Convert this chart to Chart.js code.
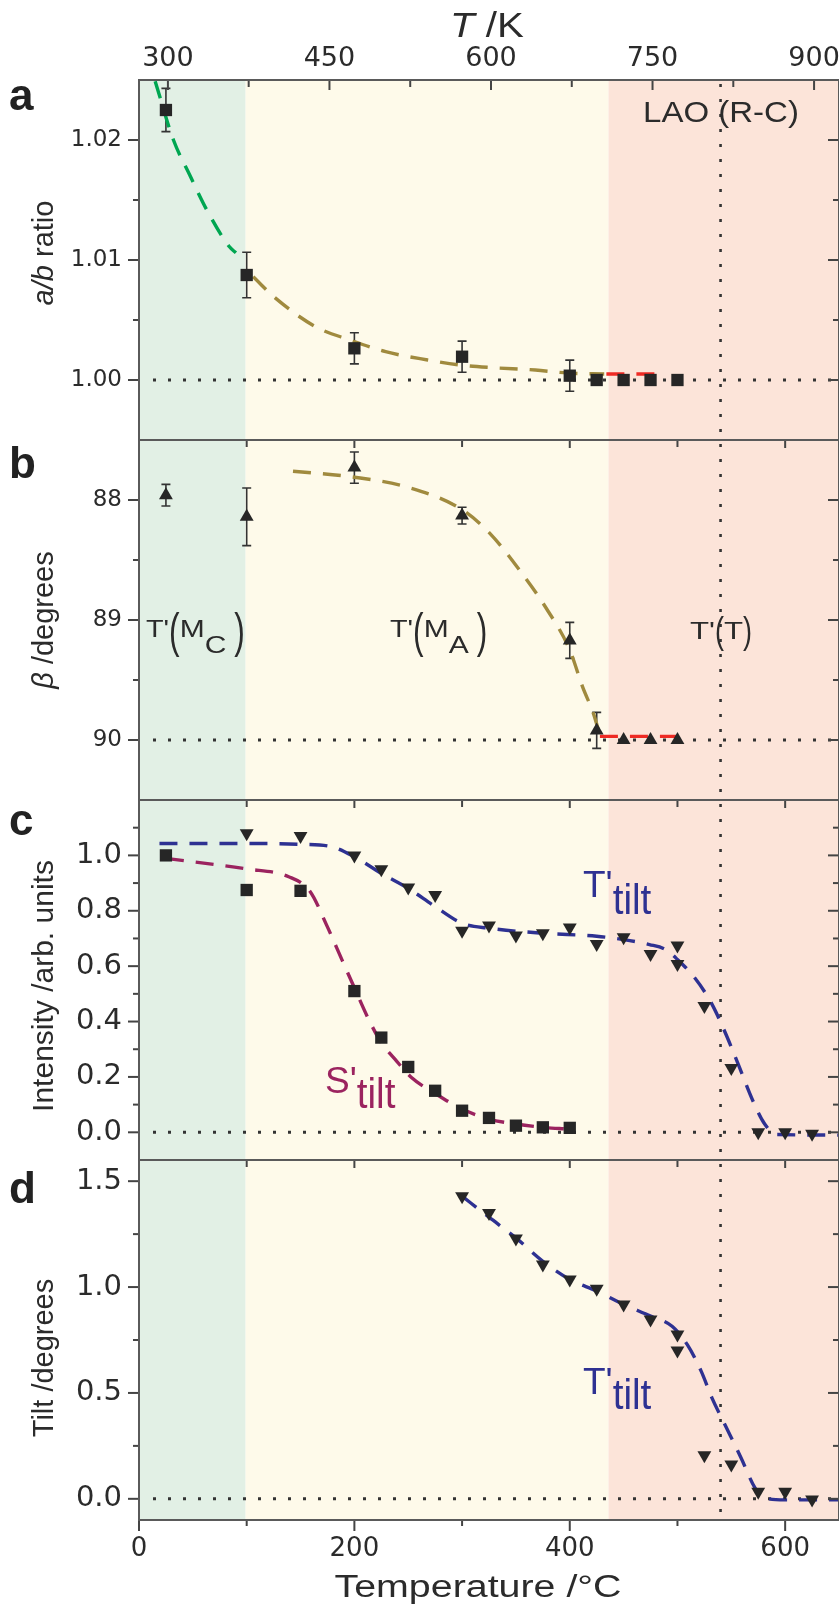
<!DOCTYPE html>
<html>
<head>
<meta charset="utf-8">
<title>Phase transitions vs temperature</title>
<script src="https://cdn.jsdelivr.net/npm/chart.js@4.4.1/dist/chart.umd.min.js"></script>
<style>
  html, body { margin: 0; padding: 0; background: #fff; overflow: hidden; }
  #fig { position: relative; width: 839px; height: 1609px; }
  #fig canvas { position: absolute; left: 0; top: 0; }
</style>
</head>
<body>
<div id="fig">
  <canvas id="panel-a" width="839" height="1609"></canvas>
  <canvas id="panel-b" width="839" height="1609"></canvas>
  <canvas id="panel-c" width="839" height="1609"></canvas>
  <canvas id="panel-d" width="839" height="1609"></canvas>
</div>
<script>
// ════════════════════════════════════════════════════
//  DATA
// ════════════════════════════════════════════════════

const T_MIN = 0, T_MAX = 650;
const phaseEdges  = [0, 99, 436, 650];
const phaseColors = ['#e2f0e5', '#fefaea', '#fce4d9'];
const laoT = 540;

const xMajor  = [0, 200, 400, 600];
const xMinor  = [100, 300, 500];
const xLabels = ['0', '200', '400', '600'];
const kMajor  = [300, 450, 600, 750, 900];
const kMinor  = [375, 525, 675, 825];
const kLabels = ['300', '450', '600', '750', '900'];

// (a) a/b ratio
const aTemp  = [25, 100, 200, 300, 400, 425, 450, 475, 500];
const aRatio = [1.0225, 1.00875, 1.00264, 1.00194, 1.00036, 1.0, 1.0, 1.0, 1.0];
const aErr   = [0.0018, 0.0019, 0.0013, 0.0013, 0.0013, 0, 0, 0, 0];
const aFitMcT = [15, 32, 47, 64, 84, 90];
const aFitMcV = [1.0249, 1.0200, 1.0171, 1.0140, 1.0111, 1.0106];
const aFitMaT = [106, 127, 164, 196, 229, 268, 298, 328, 368, 398, 432];
const aFitMaV = [1.0086, 1.0068, 1.00444, 1.00333, 1.00236, 1.00167, 1.00125, 1.00103, 1.00083, 1.00058, 1.0005];
const aFitTT = [434, 486];
const aFitTV = [1.0005, 1.0005];
const aMajor = [1.00, 1.01, 1.02], aMinor = [1.005, 1.015], aLabels = ['1.00', '1.01', '1.02'];

// (b) beta angle
const bTemp = [25, 100, 200, 300, 400, 425, 450, 475, 500];
const bBeta = [87.96, 88.14, 87.73, 88.13, 89.17, 89.92, 90.0, 90.0, 90.0];
const bErr  = [0.09, 0.24, 0.13, 0.07, 0.15, 0.15, 0, 0, 0];
const bFitMaT = [143, 200, 248, 300, 326, 353, 378, 400, 412, 422, 428];
const bFitMaV = [87.76, 87.81, 87.89, 88.08, 88.28, 88.58, 88.90, 89.25, 89.56, 89.78, 89.96];
const bFitTT = [428, 508];
const bFitTV = [89.97, 89.97];
const bMajor = [88, 89, 90], bMinor = [88.5, 89.5], bLabels = ['88', '89', '90'];

// (c) superlattice intensity
const cTiltT = [100, 150, 200, 225, 250, 275, 300, 325, 350, 375, 400, 425, 450, 475, 500, 500, 525, 550, 575, 600, 625];
const cTiltV = [1.08, 1.07, 1.0, 0.95, 0.884, 0.857, 0.728, 0.747, 0.711, 0.719, 0.74, 0.68, 0.704, 0.644, 0.675, 0.608, 0.456, 0.232, 0.0, 0.0, -0.005];
const cST = [25, 100, 150, 200, 225, 250, 275, 300, 325, 350, 375, 400];
const cSV = [1.0, 0.875, 0.872, 0.51, 0.342, 0.236, 0.15, 0.078, 0.052, 0.024, 0.018, 0.016];
const cFitTT = [19, 100, 150, 179, 200, 225, 250, 275, 300, 325, 375, 425, 450, 474, 489, 500, 516, 531, 543, 556, 570, 581, 592, 650];
const cFitTV = [1.043, 1.043, 1.040, 1.031, 0.995, 0.935, 0.881, 0.815, 0.755, 0.737, 0.719, 0.708, 0.696, 0.678, 0.660, 0.624, 0.558, 0.470, 0.372, 0.250, 0.114, 0.030, -0.008, -0.010];
const cFitST = [25, 100, 139, 159, 174, 189, 200, 214, 225, 239, 253, 276, 300, 325, 350, 375, 398];
const cFitSV = [0.989, 0.951, 0.923, 0.869, 0.75, 0.618, 0.522, 0.402, 0.324, 0.258, 0.198, 0.138, 0.084, 0.048, 0.030, 0.018, 0.012];
const cMajor = [0, 0.2, 0.4, 0.6, 0.8, 1.0], cMinor = [0.1, 0.3, 0.5, 0.7, 0.9, 1.1];
const cLabels = ['0.0', '0.2', '0.4', '0.6', '0.8', '1.0'];

// (d) tilt angle
const dT = [300, 325, 350, 375, 400, 425, 450, 475, 500, 500, 525, 550, 575, 600, 625];
const dV = [1.429, 1.35, 1.229, 1.107, 1.036, 0.992, 0.918, 0.847, 0.776, 0.70, 0.206, 0.162, 0.033, 0.033, -0.003];
const dFitT = [300, 325, 350, 375, 400, 425, 450, 475, 495, 509, 522, 532, 544, 559, 572, 581, 600, 650];
const dFitV = [1.429, 1.33, 1.232, 1.122, 1.036, 0.981, 0.918, 0.863, 0.815, 0.729, 0.603, 0.477, 0.351, 0.194, 0.052, 0.005, -0.005, -0.005];
const dMajor = [0, 0.5, 1.0, 1.5], dMinor = [0.25, 0.75, 1.25], dLabels = ['0.0', '0.5', '1.0', '1.5'];

// ════════════════════════════════════════════════════
//  STYLE
// ════════════════════════════════════════════════════

const SANS = '"Liberation Sans", Arial, sans-serif';
const TICK_FONT = '"DejaVu Sans", sans-serif';
const INK = '#2b2b2b';
const C_GREEN = '#00a651', C_OLIVE = '#a08a3e', C_RED = '#ee2a24';
const C_BLUE = '#2e3192', C_MAROON = '#9b235f';

const pts = (xs, ys) => xs.map((x, i) => ({ x, y: ys[i] }));

function marks(xs, ys, style) {
  const down = style === 'down';
  return {
    data: pts(xs, ys), showLine: false, order: 0,
    pointStyle: style === 'rect' ? 'rect' : 'triangle', rotation: down ? 180 : 0,
    pointRadius: style === 'rect' ? 8.7 : 8,
    backgroundColor: '#262626', borderColor: '#262626', borderWidth: 0
  };
}

function fit(xs, ys, color) {
  return {
    data: pts(xs, ys), showLine: true, pointRadius: 0, order: 1,
    borderColor: color, borderWidth: 3.4, borderDash: [18, 12],
    cubicInterpolationMode: 'monotone', fill: false
  };
}

// rich text: parts drawn one after another, each with own size/style/offset/stretch
function rich(ctx, n) {
  ctx.save();
  ctx.translate(n.x, n.y);
  if (n.rot) ctx.rotate(n.rot);
  const font = p => `${p.style || ''} ${p.size}px ${SANS}`;
  let w = 0;
  n.parts.forEach(p => {
    if (p.w) { w += p.w; return; }
    ctx.font = font(p);
    w += ctx.measureText(p.t).width * (p.sx || 1);
  });
  let cx = n.align === 'center' ? -w / 2 : 0;
  ctx.textBaseline = 'alphabetic';
  ctx.textAlign = 'left';
  ctx.fillStyle = n.color || INK;
  n.parts.forEach(p => {
    if (p.w) { cx += p.w; return; }
    ctx.font = font(p);
    const sx = p.sx || 1;
    ctx.save();
    ctx.translate(cx, p.dy || 0);
    ctx.scale(sx, 1);
    ctx.fillText(p.t, 0, 0);
    ctx.restore();
    cx += ctx.measureText(p.t).width * sx;
  });
  ctx.restore();
}

function tickMarks(ctx, scale, vals, len, side, a) {
  vals.forEach(v => {
    const p = scale.getPixelForValue(v);
    ctx.beginPath();
    if (side === 'left')       { ctx.moveTo(a.left - len, p); ctx.lineTo(a.left, p); }
    else if (side === 'right') { ctx.moveTo(a.right - len, p); ctx.lineTo(a.right, p); }
    else if (side === 'top')   { ctx.moveTo(p, a.top); ctx.lineTo(p, a.top + len); }
    else                       { ctx.moveTo(p, a.bottom); ctx.lineTo(p, a.bottom + len); }
    ctx.stroke();
  });
}

function makeDeco(p) {
  return {
    id: 'deco',
    beforeDatasetsDraw(chart) {
      const { ctx, chartArea: a, scales: { x, y } } = chart;
      ctx.save();
      // phase regions
      phaseColors.forEach((c, i) => {
        const x0 = x.getPixelForValue(phaseEdges[i]);
        const x1 = x.getPixelForValue(phaseEdges[i + 1]);
        ctx.fillStyle = c;
        ctx.fillRect(x0, a.top, x1 - x0, a.bottom - a.top);
      });
      // dotted reference lines
      ctx.strokeStyle = '#333';
      ctx.setLineDash([3, 12]);
      ctx.lineWidth = 3;
      const yr = y.getPixelForValue(p.ref);
      ctx.beginPath(); ctx.moveTo(a.left + 14, yr); ctx.lineTo(a.right, yr); ctx.stroke();
      ctx.lineWidth = 2.6;
      const xv = x.getPixelForValue(laoT);
      ctx.beginPath(); ctx.moveTo(xv, a.top + 4); ctx.lineTo(xv, a.bottom); ctx.stroke();
      // error bars
      if (p.err) {
        ctx.setLineDash([]);
        ctx.lineWidth = 1.6;
        ctx.strokeStyle = '#333';
        p.err.t.forEach((t, i) => {
          const e = p.err.e[i];
          if (!e) return;
          const px = x.getPixelForValue(t);
          const y0 = y.getPixelForValue(p.err.v[i] - e), y1 = y.getPixelForValue(p.err.v[i] + e);
          ctx.beginPath();
          ctx.moveTo(px, y0); ctx.lineTo(px, y1);
          ctx.moveTo(px - 4.5, y0); ctx.lineTo(px + 4.5, y0);
          ctx.moveTo(px - 4.5, y1); ctx.lineTo(px + 4.5, y1);
          ctx.stroke();
        });
      }
      ctx.restore();
    },
    afterDraw(chart) {
      const { ctx, chartArea: a, scales } = chart;
      ctx.save();
      ctx.setLineDash([]);
      ctx.strokeStyle = '#444';
      ctx.lineWidth = 2;
      tickMarks(ctx, scales.y, p.yMajor, 11, 'left', a);
      tickMarks(ctx, scales.y, p.yMinor, 6, 'left', a);
      tickMarks(ctx, scales.y, p.yMajor, 11, 'right', a);
      tickMarks(ctx, scales.y, p.yMinor, 6, 'right', a);
      if (scales.xk) {
        tickMarks(ctx, scales.xk, kMajor, 10, 'top', a);
        tickMarks(ctx, scales.xk, kMinor, 7, 'top', a);
      } else {
        tickMarks(ctx, scales.x, xMajor.slice(1), 8, 'top', a);
        tickMarks(ctx, scales.x, xMinor, 7, 'top', a);
      }
      if (p.bottomAxis) {
        tickMarks(ctx, scales.x, xMajor, 11, 'bottom', a);
        tickMarks(ctx, scales.x, xMinor, 6, 'bottom', a);
      }
      ctx.strokeStyle = '#5a5a5a';
      ctx.lineWidth = 2;
      ctx.strokeRect(a.left, a.top, a.right - a.left, a.bottom - a.top);
      p.notes.forEach(n => rich(ctx, n));
      ctx.restore();
    }
  };
}

function panel(id, p) {
  const scales = {
    x: {
      type: 'linear', position: 'bottom', min: T_MIN, max: T_MAX, display: !!p.bottomAxis,
      afterBuildTicks: s => { s.ticks = xMajor.map(v => ({ value: v })); },
      afterFit: s => { s.height = p.bottomAxis ? 89 : 0; s.paddingLeft = 0; s.paddingRight = 0; },
      grid: { display: false, drawTicks: false }, border: { display: false },
      ticks: { autoSkip: false, maxRotation: 0, padding: 14, color: INK,
               font: { family: TICK_FONT, size: 26 }, callback: (v, i) => xLabels[i] }
    },
    y: {
      type: 'linear', position: 'left', min: p.yMin, max: p.yMax, reverse: !!p.reverse,
      afterBuildTicks: s => { s.ticks = p.yMajor.map(v => ({ value: v })); },
      afterFit: s => { s.width = 139; s.paddingTop = 0; s.paddingBottom = 0; },
      grid: { display: false, drawTicks: false }, border: { display: false },
      ticks: { autoSkip: false, padding: 17, color: INK,
               font: { family: TICK_FONT, size: p.tickSize }, callback: (v, i) => p.yLabels[i] }
    }
  };
  if (p.kelvin) {
    scales.xk = {
      type: 'linear', position: 'top', min: T_MIN + 273.15, max: T_MAX + 273.15,
      afterBuildTicks: s => { s.ticks = kMajor.map(v => ({ value: v })); },
      afterFit: s => { s.height = 80; s.paddingLeft = 0; s.paddingRight = 0; },
      grid: { display: false, drawTicks: false }, border: { display: false },
      ticks: { autoSkip: false, maxRotation: 0, padding: 5, color: INK,
               font: { family: TICK_FONT, size: 27 }, callback: (v, i) => kLabels[i] }
    };
  }
  return new Chart(document.getElementById(id), {
    type: 'scatter',
    data: { datasets: p.datasets },
    options: {
      responsive: false, animation: false, events: [], devicePixelRatio: 1,
      layout: { autoPadding: false, padding: p.pad },
      plugins: { legend: { display: false }, tooltip: { enabled: false } },
      scales
    },
    plugins: [makeDeco(p)]
  });
}

const letter = (t, y) => ({ x: 9, y, color: '#222', parts: [{ t, size: 44, style: 'bold' }] });
const yTitle = (parts, y) => ({ x: 53, y, rot: -Math.PI / 2, align: 'center', parts });
const phaseLabel = (sub, x) => ({ x, y: 637, parts: [
  { t: "T'", size: 24, sx: 1.2 }, { t: '(', size: 48, dy: 10, sx: 0.66 },
  { t: 'M', size: 24, sx: 1.25 }, { t: sub, size: 24, dy: 16, sx: 1.25 },
  { w: 8 }, { t: ')', size: 48, dy: 10, sx: 0.66 }] });
const tiltLabel = (s, x, y, color, dy) => ({ x, y, color, parts: [
  { t: s + "'", size: 37 }, { t: 'tilt', size: 42, dy, sx: 0.92 }] });

// ════════════════════════════════════════════════════
//  PANELS
// ════════════════════════════════════════════════════

panel('panel-a', {
  pad: { top: 0, bottom: 1169, left: 0, right: 0 }, kelvin: true, tickSize: 23,
  yMin: 0.995, yMax: 1.025, yMajor: aMajor, yMinor: aMinor, yLabels: aLabels, ref: 1.0,
  err: { t: aTemp, v: aRatio, e: aErr },
  datasets: [marks(aTemp, aRatio, 'rect'), fit(aFitMcT, aFitMcV, C_GREEN),
             fit(aFitMaT, aFitMaV, C_OLIVE), fit(aFitTT, aFitTV, C_RED)],
  notes: [
    letter('a', 110),
    yTitle([{ t: 'a/b', size: 29, style: 'italic' }, { t: ' ratio', size: 29 }], 253),
    { x: 487, y: 37, align: 'center', parts: [{ t: 'T', size: 35, style: 'italic', sx: 1.15 }, { t: ' /K', size: 35, sx: 1.15 }] },
    { x: 721, y: 122, align: 'center', parts: [{ t: 'LAO (R-C)', size: 30, sx: 1.1 }] }
  ]
});

panel('panel-b', {
  pad: { top: 440, bottom: 809, left: 0, right: 0 }, tickSize: 23,
  yMin: 87.5, yMax: 90.5, reverse: true, yMajor: bMajor, yMinor: bMinor, yLabels: bLabels, ref: 90,
  err: { t: bTemp, v: bBeta, e: bErr },
  datasets: [marks(bTemp, bBeta, 'triangle'), fit(bFitMaT, bFitMaV, C_OLIVE), fit(bFitTT, bFitTV, C_RED)],
  notes: [
    letter('b', 478),
    yTitle([{ t: 'β', size: 29, style: 'italic' }, { t: ' /degrees', size: 29 }], 620),
    phaseLabel('C', 146),
    phaseLabel('A', 390),
    { x: 690, y: 639, parts: [
      { t: "T'", size: 24, sx: 1.3 }, { t: '(', size: 36, dy: 4, sx: 0.75 },
      { t: 'T', size: 24, sx: 1.3 }, { t: ')', size: 36, dy: 4, sx: 0.75 }] }
  ]
});

panel('panel-c', {
  pad: { top: 800, bottom: 449, left: 0, right: 0 }, tickSize: 29,
  yMin: -0.1, yMax: 1.2, yMajor: cMajor, yMinor: cMinor, yLabels: cLabels, ref: 0,
  datasets: [marks(cTiltT, cTiltV, 'down'), marks(cST, cSV, 'rect'),
             fit(cFitTT, cFitTV, C_BLUE), fit(cFitST, cFitSV, C_MAROON)],
  notes: [
    letter('c', 835),
    yTitle([{ t: 'Intensity /arb. units', size: 30 }], 986),
    tiltLabel('T', 583, 897, C_BLUE, 17),
    tiltLabel('S', 325, 1093, C_MAROON, 15)
  ]
});

panel('panel-d', {
  pad: { top: 1160, bottom: 0, left: 0, right: 0 }, bottomAxis: true, tickSize: 29,
  yMin: -0.1, yMax: 1.6, yMajor: dMajor, yMinor: dMinor, yLabels: dLabels, ref: 0,
  datasets: [marks(dT, dV, 'down'), fit(dFitT, dFitV, C_BLUE)],
  notes: [
    letter('d', 1203),
    yTitle([{ t: 'Tilt /degrees', size: 29 }], 1358),
    tiltLabel('T', 583, 1394, C_BLUE, 15),
    { x: 478, y: 1597, align: 'center', parts: [{ t: 'Temperature /°C', size: 31, sx: 1.27 }] }
  ]
});
</script>
</body>
</html>
